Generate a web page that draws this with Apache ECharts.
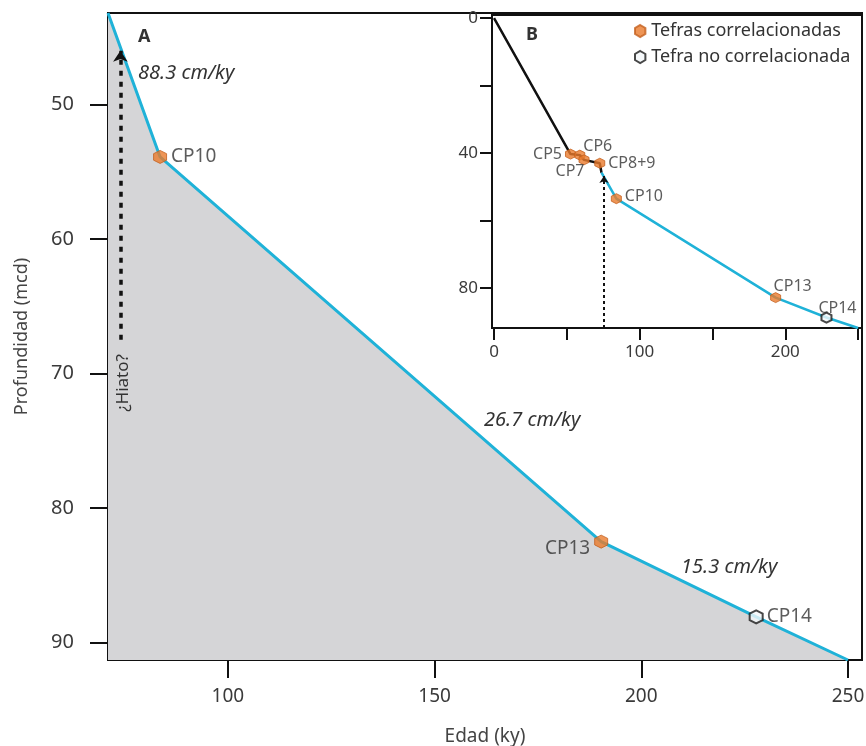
<!DOCTYPE html>
<html><head><meta charset="utf-8">
<script src="https://cdn.jsdelivr.net/npm/echarts@6/dist/echarts.min.js"></script>
<style>html,body{margin:0;padding:0;background:#fff}#c{width:866px;height:746px}</style>
</head><body><div id="c"></div>
<script>
// ---- Panel A (main) data ----
const mainLineAge   = [71, 83.6, 190.3, 227.8, 250];
const mainLineDepth = [43.2, 53.9, 82.5, 88.1, 91.3];
const mainCorrNames = ['CP10', 'CP13'];
const mainCorrAge   = [83.6, 190.3];
const mainCorrDepth = [53.9, 82.5];
const mainUncorrNames = ['CP14'];
const mainUncorrAge   = [227.8];
const mainUncorrDepth = [88.1];
const mainHiatoAge = 74;
const mainHiatoDepth = [67.5, 46.0];
const mainXTicks = [100, 150, 200, 250];
const mainYTicks = [50, 60, 70, 80, 90];
const rateLabels = ['88.3 cm/ky', '26.7 cm/ky', '15.3 cm/ky'];

// ---- Panel B (inset) data ----
const insetBlackAge   = [0, 52.5, 58.9, 61.8, 72.6, 73.8];
const insetBlackDepth = [0, 40.3, 40.6, 42.0, 43.0, 45.8];
const insetCyanAge    = [73.8, 84.0, 193.4, 228.3, 250];
const insetCyanDepth  = [45.8, 53.5, 82.8, 88.7, 91.8];
const insetCorrNames = ['CP5', 'CP6', 'CP7', 'CP8+9', 'CP10', 'CP13'];
const insetCorrAge   = [52.5, 58.9, 61.8, 72.6, 84.0, 193.4];
const insetCorrDepth = [40.3, 40.6, 42.0, 43.0, 53.5, 82.8];
const insetUncorrNames = ['CP14'];
const insetUncorrAge   = [228.3];
const insetUncorrDepth = [88.7];
const insetHiatoAge = 75.5;
const insetHiatoDepth = [91.8, 46.8];
const insetXTicks = [0, 50, 100, 150, 200, 250];
const insetXLabels = [0, 100, 200];
const insetYTicks = [0, 20, 40, 60, 80];
const insetYLabels = [0, 40, 80];

const legendNames = ['Tefras correlacionadas', 'Tefra no correlacionada'];

const FONT = 'Noto Sans';
const TXT = '#3a3a3a';
const CYAN = '#1fb2d8';
const ORANGE = '#ea7a2c';
const HEX = 'path://M50,0 L93.3,25 L93.3,75 L50,100 L6.7,75 L6.7,25 Z';

const zip = (a, b) => a.map((v, i) => [v, b[i]]);
const named = (n, a, b, pos, off) => n.map((nm, i) => ({name: nm, value: [a[i], b[i]], label: {position: pos[i], offset: off ? off[i] : [0, 0]}}));

const chart = echarts.init(document.getElementById('c'));

const axisCommon = {
  axisLine: {show: true, onZero: false, lineStyle: {color: '#111', width: 2}},
  splitLine: {show: false}
};

chart.setOption({
  animation: false,
  backgroundColor: '#fff',
  textStyle: {fontFamily: FONT},
  legend: {
    data: legendNames,
    orient: 'vertical',
    left: 634, top: 22,
    itemWidth: 12, itemHeight: 12, itemGap: 8,
    textStyle: {fontFamily: FONT, fontSize: 18, color: '#333'},
    padding: 0
  },
  grid: [
    {left: 108, top: 13, width: 754, height: 647, show: true, borderColor: '#111', borderWidth: 2,
     backgroundColor: 'transparent', containLabel: false, outerBoundsMode: 'none'},
    {left: 492, top: 15, width: 370, height: 313, show: true, borderColor: '#111', borderWidth: 2,
     backgroundColor: '#fff', containLabel: false, outerBoundsMode: 'none'}
  ],
  xAxis: [
    Object.assign({}, axisCommon, {
      gridIndex: 0, type: 'value', min: 71, max: 253.4,
      name: 'Edad (ky)', nameLocation: 'middle', nameGap: 67,
      nameTextStyle: {fontFamily: FONT, fontSize: 19, color: '#444'},
      axisTick: {show: true, length: 18, lineStyle: {color: '#111', width: 2}, customValues: mainXTicks},
      axisLabel: {fontFamily: FONT, fontSize: 19, color: TXT, margin: 27, customValues: mainXTicks}
    }),
    Object.assign({}, axisCommon, {
      gridIndex: 1, type: 'value', min: -1.4, max: 252.7,
      axisTick: {show: true, length: 12, lineStyle: {color: '#111', width: 2}, customValues: insetXTicks},
      axisLabel: {fontFamily: FONT, fontSize: 17, color: TXT, margin: 16, customValues: insetXLabels}
    })
  ],
  yAxis: [
    Object.assign({}, axisCommon, {
      gridIndex: 0, type: 'value', inverse: true, min: 43.2, max: 91.3,
      name: 'Profundidad (mcd)', nameLocation: 'middle', nameGap: 77,
      nameTextStyle: {fontFamily: FONT, fontSize: 18, color: '#444'},
      axisTick: {show: true, length: 18, lineStyle: {color: '#111', width: 2}, customValues: mainYTicks},
      axisLabel: {fontFamily: FONT, fontSize: 20, color: TXT, margin: 34, customValues: mainYTicks}
    }),
    Object.assign({}, axisCommon, {
      gridIndex: 1, type: 'value', inverse: true, min: -0.9, max: 91.8,
      axisTick: {show: true, length: 12, lineStyle: {color: '#111', width: 2}, customValues: insetYTicks},
      axisLabel: {fontFamily: FONT, fontSize: 17, color: TXT, margin: 14, customValues: insetYLabels}
    })
  ],
  series: [
    {
      type: 'line', xAxisIndex: 0, yAxisIndex: 0, z: 2,
      data: zip(mainLineAge, mainLineDepth),
      symbol: 'none',
      lineStyle: {color: CYAN, width: 3},
      areaStyle: {color: '#d5d5d7', opacity: 1, origin: 'end'},
      markLine: {
        silent: true, symbol: ['none', 'arrow'], symbolSize: 11,
        label: {show: false},
        lineStyle: {color: '#111', width: 3.5, type: [5, 6]},
        data: [[{coord: [mainHiatoAge, mainHiatoDepth[0]]}, {coord: [mainHiatoAge, mainHiatoDepth[1]]}]]
      }
    },
    {
      name: legendNames[0], type: 'scatter', xAxisIndex: 0, yAxisIndex: 0, z: 5,
      symbol: HEX, symbolSize: 13,
      itemStyle: {color: ORANGE, borderColor: '#c4601e', borderWidth: 1},
      label: {show: true, formatter: '{b}', fontFamily: FONT, fontSize: 19, color: '#333', distance: 4},
      data: named(mainCorrNames, mainCorrAge, mainCorrDepth, ['right', 'left'], [[0, 0], [0, 7]])
    },
    {
      name: legendNames[1], type: 'scatter', xAxisIndex: 0, yAxisIndex: 0, z: 5,
      symbol: HEX, symbolSize: 13,
      itemStyle: {color: '#f4f8fa', borderColor: '#1a1a1a', borderWidth: 2},
      label: {show: true, formatter: '{b}', fontFamily: FONT, fontSize: 19, color: '#333', distance: 3},
      data: named(mainUncorrNames, mainUncorrAge, mainUncorrDepth, ['right'])
    },
    {
      type: 'line', xAxisIndex: 1, yAxisIndex: 1, z: 3,
      data: zip(insetBlackAge, insetBlackDepth),
      symbol: 'none',
      lineStyle: {color: '#111', width: 2.5}
    },
    {
      type: 'line', xAxisIndex: 1, yAxisIndex: 1, z: 3,
      data: zip(insetCyanAge, insetCyanDepth),
      symbol: 'none',
      lineStyle: {color: CYAN, width: 2.5},
      markLine: {
        silent: true, symbol: ['none', 'arrow'], symbolSize: 7,
        label: {show: false},
        lineStyle: {color: '#111', width: 2, type: [3, 3]},
        data: [[{coord: [insetHiatoAge, insetHiatoDepth[0]]}, {coord: [insetHiatoAge, insetHiatoDepth[1]]}]]
      }
    },
    {
      name: legendNames[0], type: 'scatter', xAxisIndex: 1, yAxisIndex: 1, z: 5,
      symbol: HEX, symbolSize: 10,
      itemStyle: {color: ORANGE, borderColor: '#c4601e', borderWidth: 1},
      label: {show: true, formatter: '{b}', fontFamily: FONT, fontSize: 16, color: '#333', distance: 3},
      data: named(insetCorrNames, insetCorrAge, insetCorrDepth,
        ['left', 'top', 'bottom', 'right', 'right', 'top'],
        [[0, 0], [18, 8], [-14, -5], [0, 0], [0, -2], [17, 5]])
    },
    {
      name: legendNames[1], type: 'scatter', xAxisIndex: 1, yAxisIndex: 1, z: 5,
      symbol: HEX, symbolSize: 10,
      itemStyle: {color: '#f4f8fa', borderColor: '#1a1a1a', borderWidth: 2},
      label: {show: true, formatter: '{b}', fontFamily: FONT, fontSize: 16, color: '#333', distance: 1},
      data: named(insetUncorrNames, insetUncorrAge, insetUncorrDepth, ['top'], [[11, 6]])
    }
  ],
  graphic: [
    {type: 'text', z: 100, x: 138, y: 37, style: {text: 'A', font: 'bold 18px ' + FONT, fill: '#333', textVerticalAlign: 'middle'}},
    {type: 'text', z: 100, x: 526, y: 35, style: {text: 'B', font: 'bold 18px ' + FONT, fill: '#333', textVerticalAlign: 'middle'}},
    {type: 'text', z: 100, x: 138, y: 73, style: {text: rateLabels[0], font: 'italic 20px ' + FONT, fill: '#333', textVerticalAlign: 'middle'}},
    {type: 'text', z: 100, x: 484, y: 420, style: {text: rateLabels[1], font: 'italic 20px ' + FONT, fill: '#333', textVerticalAlign: 'middle'}},
    {type: 'text', z: 100, x: 681, y: 567, style: {text: rateLabels[2], font: 'italic 20px ' + FONT, fill: '#333', textVerticalAlign: 'middle'}},
    {type: 'text', z: 100, x: 123, y: 383, rotation: Math.PI / 2,
     style: {text: '¿Hiato?', font: '17px ' + FONT, fill: '#333', textAlign: 'center', textVerticalAlign: 'middle'}}
  ]
});
</script></body></html>
